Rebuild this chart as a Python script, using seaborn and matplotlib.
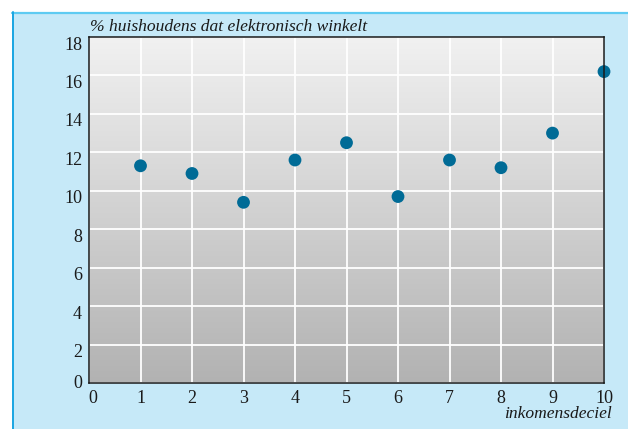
import numpy as np
import pandas as pd
import matplotlib
matplotlib.use("Agg")
import matplotlib.pyplot as plt
import matplotlib.transforms as mtransforms
from matplotlib.patches import Rectangle
import seaborn as sns

deciles = [1, 2, 3, 4, 5, 6, 7, 8, 9, 10]
pct_online = [11.3, 10.9, 9.4, 11.6, 12.5, 9.7, 11.6, 11.2, 13.0, 16.2]
x_ticks = [0, 1, 2, 3, 4, 5, 6, 7, 8, 9, 10]
y_ticks = [0, 2, 4, 6, 8, 10, 12, 14, 16, 18]
y_title = "% huishoudens dat elektronisch winkelt"
x_title = "inkomensdeciel"

sns.set_theme(style="white")
plt.rcParams["font.family"] = ["Liberation Serif", "DejaVu Serif"]

df = pd.DataFrame({"deciel": deciles, "pct": pct_online})

W, H = 628, 429
fig = plt.figure(figsize=(W / 100, H / 100), dpi=100)
fig.patch.set_facecolor("white")

# light blue panel with cyan border (top and left)
panel = Rectangle((12 / W, 0), 1 - 12 / W, 1 - 12 / H, transform=fig.transFigure,
                  facecolor="#c6e9f8", edgecolor="none", zorder=-10)
fig.patches.append(panel)
fig.add_artist(plt.Line2D([12 / W, 1], [1 - 12.5 / H, 1 - 12.5 / H], transform=fig.transFigure,
                          color="#5ecbf2", lw=1.6, zorder=-9))
fig.add_artist(plt.Line2D([13 / W, 13 / W], [0, 1 - 12 / H], transform=fig.transFigure,
                          color="#1aa6e2", lw=1.4, zorder=-9))

left, right, top, bottom = 89, 604, 37, 383
ax = fig.add_axes([left / W, (H - bottom) / H, (right - left) / W, (bottom - top) / H])
ax.set_zorder(1)
ax.set_facecolor("none")

# vertical gradient background: light at top, darker at bottom
grad = np.linspace(0, 1, 256).reshape(-1, 1)
cmap = matplotlib.colors.LinearSegmentedColormap.from_list("g", ["#b2b2b2", "#f1f1f1"])
ax.imshow(grad, aspect="auto", cmap=cmap, extent=[0, 1, 1, 0], transform=ax.transAxes, zorder=0)

sns.scatterplot(data=df, x="deciel", y="pct", ax=ax, s=85, color="#006b96",
                edgecolor="none", zorder=5, clip_on=False)

ax.set_xlim(0, 10)
ax.set_ylim(0, 18)
ax.set_xticks(x_ticks)
ax.set_yticks(y_ticks)
ax.set_xticklabels([str(v) for v in x_ticks], fontsize=13, color="#1a1a1a")
ax.set_yticklabels([str(v) for v in y_ticks], fontsize=13, color="#1a1a1a")
ax.tick_params(length=0, pad=5)
ax.grid(True, color="white", lw=1.3, zorder=1)
ax.set_axisbelow(False)
for ln in ax.get_xgridlines() + ax.get_ygridlines():
    ln.set_zorder(1)
ax.set_xlabel("")
ax.set_ylabel("")
for sp in ax.spines.values():
    sp.set_visible(True)
    sp.set_color("#1a1a1a")
    sp.set_linewidth(1.1)
    sp.set_zorder(6)

# y tick labels sit slightly below their grid lines, except 0
for lab, v in zip(ax.get_yticklabels(), y_ticks):
    dy = -6 / 100 if v != 0 else 1 / 100
    lab.set_transform(lab.get_transform() + mtransforms.ScaledTranslation(0, dy, fig.dpi_scale_trans))
for lab, v in zip(ax.get_xticklabels(), x_ticks):
    if v == 0:
        lab.set_transform(lab.get_transform() + mtransforms.ScaledTranslation(4 / 100, 0, fig.dpi_scale_trans))

fig.text(90 / W, 1 - 27 / H, y_title, fontsize=12.6, style="italic", color="#1a1a1a",
         ha="left", va="center")
fig.text(612 / W, 1 - 414 / H, x_title, fontsize=12.6, style="italic", color="#1a1a1a",
         ha="right", va="center")

fig.savefig("out.png", dpi=100)
